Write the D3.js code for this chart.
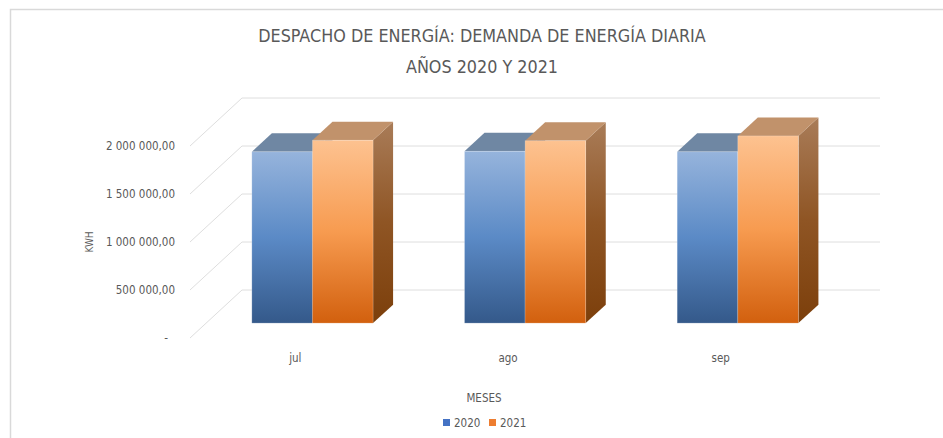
<!DOCTYPE html>
<html>
<head>
<meta charset="utf-8">
<script src="https://cdn.jsdelivr.net/npm/d3@7"></script>
<style>
  body { margin: 0; background: #fff; }
  text { font-family: "Liberation Sans Narrow", "DejaVu Sans Condensed", "Open Sans", sans-serif; fill: #595959; }
</style>
</head>
<body>
<script>
let months = ['jul', 'ago', 'sep']
let years = ['2020', '2021']
let values2020 = [1785000, 1790000, 1785000]
let values2021 = [1905000, 1900000, 1950000]
let yTicks = [0, 500000, 1000000, 1500000, 2000000]

let width = 943, height = 438
// oblique 3d: depth shift of the back wall
let depth = { dx: 52, dy: -48 }
let front = { left: 190, right: 828 }

let svg = d3.select('body').append('svg')
    .attr('width', width)
    .attr('height', height)

// frame
svg.append('path')
    .attr('d', 'M10.5,' + height + 'V9.5H' + width)
    .attr('fill', 'none')
    .attr('stroke', '#d9d9d9')
    .attr('stroke-width', 1.5)

let y = d3.scaleLinear().domain([0, 2000000]).range([338, 146])
let x0 = d3.scaleBand().domain(months).range([front.left, front.right])
    .paddingInner(0.43).paddingOuter(0.215)
let x1 = d3.scaleBand().domain(years).range([0, x0.bandwidth()])
let z = d3.scaleLinear().domain([0, 1]).range([0, 1])

let proj = (px, v, d) => [px + z(d) * depth.dx, y(v) + z(d) * depth.dy]

let locale = d3.formatLocale({ decimal: ',', thousands: ' ', grouping: [3], currency: ['', ''] })
let fmt = locale.format(',.2f')

// gridlines: floor-wall diagonals and back wall
let grid = svg.append('g').attr('stroke', '#dedede').attr('stroke-width', 1).attr('fill', 'none')
yTicks.forEach(t => {
  let a = proj(front.left, t, 0)
  let b = proj(front.left, t, 1)
  let c = proj(front.right, t, 1)
  grid.append('path').attr('d', 'M' + a + 'L' + b + 'L' + c)
})

// y tick labels
svg.append('g').selectAll('text')
    .data(yTicks)
    .enter().append('text')
    .attr('x', d => d === 0 ? 168 : 175)
    .attr('y', d => y(d) + 4)
    .attr('text-anchor', 'end')
    .style('font-size', '11.5px')
    .text(d => d === 0 ? '-' : fmt(d))

// gradients
let defs = svg.append('defs')
function grad(id, stops) {
  let g = defs.append('linearGradient').attr('id', id)
      .attr('x1', 0).attr('y1', 0).attr('x2', 0).attr('y2', 1)
  stops.forEach((c, i) => g.append('stop').attr('offset', i / (stops.length - 1)).attr('stop-color', c))
}
grad('blueFront', ['#96b4dc', '#5b8ac6', '#34598a'])
grad('blueSide', ['#5a7aa6', '#24416a'])
grad('orangeFront', ['#fdc290', '#f79b50', '#d2600e'])
grad('orangeSide', ['#a97c58', '#8f5524', '#7c3f0b'])

let styles = {
  '2020': { front: 'url(#blueFront)', top: '#6f87a3', side: 'url(#blueSide)' },
  '2021': { front: 'url(#orangeFront)', top: '#c1926b', side: 'url(#orangeSide)' }
}

let rows = []
months.forEach((m, i) => {
  rows.push({ month: m, year: '2020', value: values2020[i] })
  rows.push({ month: m, year: '2021', value: values2021[i] })
})

let z0 = 0.31, z1 = 0.695
let bars = svg.append('g')
rows.forEach(r => {
  let xa = x0(r.month) + x1(r.year)
  let xb = xa + x1.bandwidth()
  let st = styles[r.year]
  let g = bars.append('g')
  let poly = pts => 'M' + pts.map(p => p.join(',')).join('L') + 'Z'
  // side
  g.append('path')
      .attr('d', poly([proj(xb, 0, z0), proj(xb, 0, z1), proj(xb, r.value, z1), proj(xb, r.value, z0)]))
      .attr('fill', st.side)
  // top
  g.append('path')
      .attr('d', poly([proj(xa, r.value, z0), proj(xa, r.value, z1), proj(xb, r.value, z1), proj(xb, r.value, z0)]))
      .attr('fill', st.top)
  // front
  let p = proj(xa, r.value, z0), q = proj(xb, 0, z0)
  g.append('rect')
      .attr('x', p[0]).attr('y', p[1])
      .attr('width', q[0] - p[0]).attr('height', q[1] - p[1])
      .attr('fill', st.front)
      .attr('stroke', 'rgba(255,255,255,0.25)')
      .attr('stroke-width', 0.8)
})

// category labels
svg.append('g').selectAll('text')
    .data(months)
    .enter().append('text')
    .attr('x', d => x0(d) + x0.bandwidth() / 2 - 1)
    .attr('y', 362)
    .attr('text-anchor', 'middle')
    .style('font-size', '11.5px')
    .text(d => d)

// titles
svg.append('text')
    .attr('x', 482).attr('y', 42)
    .attr('text-anchor', 'middle')
    .style('font-size', '17.8px')
    .text('DESPACHO DE ENERGÍA: DEMANDA DE ENERGÍA DIARIA')
svg.append('text')
    .attr('x', 482).attr('y', 73)
    .attr('text-anchor', 'middle')
    .style('font-size', '17.8px')
    .text('AÑOS 2020 Y 2021')

svg.append('text')
    .attr('transform', 'translate(93,242) rotate(-90)')
    .attr('text-anchor', 'middle')
    .style('font-size', '10px')
    .text('KWH')

svg.append('text')
    .attr('x', 484).attr('y', 402)
    .attr('text-anchor', 'middle')
    .style('font-size', '11.5px')
    .text('MESES')

// legend
let legendColors = { '2020': '#4472c4', '2021': '#ed7d31' }
let legend = svg.append('g').selectAll('g')
    .data(years)
    .enter().append('g')
    .attr('transform', (d, i) => 'translate(' + (443 + i * 46) + ',0)')
legend.append('rect')
    .attr('y', 419).attr('width', 7).attr('height', 7)
    .attr('fill', d => legendColors[d])
legend.append('text')
    .attr('x', 11).attr('y', 427)
    .style('font-size', '11.5px')
    .text(d => d)
</script>
</body>
</html>
